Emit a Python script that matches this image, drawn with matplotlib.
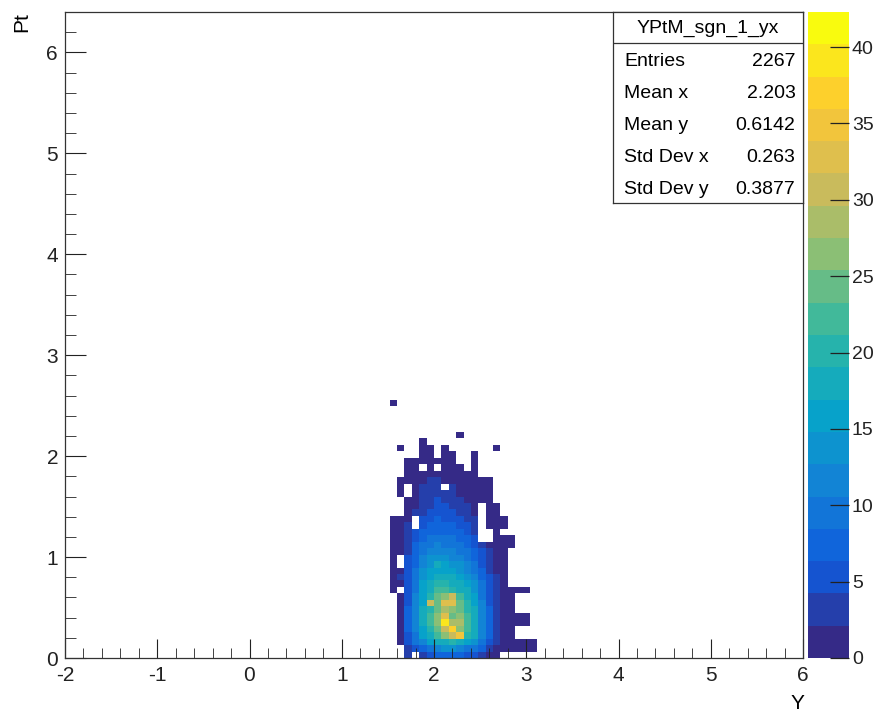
import numpy as np
import matplotlib
matplotlib.use('Agg')
import matplotlib.pyplot as plt
from matplotlib.colors import LinearSegmentedColormap, Normalize
from matplotlib.ticker import MultipleLocator

plt.rcParams['font.family'] = ['Liberation Sans Narrow', 'Liberation Sans', 'DejaVu Sans']
plt.rcParams['axes.unicode_minus'] = False

# histogram binning (TH2: 100 x 100)
x_edges = np.linspace(-2, 6, 101)
y_edges = np.linspace(0, 6.4, 101)

# bin contents, columns are x bins 44..64 (Y = 1.52 .. 3.20)
# rows listed from top (Pt bin 39) down to Pt bin 0
first_col = 44
counts_top_down = [
    [1, 0, 0, 0, 0, 0, 0, 0, 0, 0, 0, 0, 0, 0, 0, 0, 0, 0, 0, 0, 0],
    [0, 0, 0, 0, 0, 0, 0, 0, 0, 0, 0, 0, 0, 0, 0, 0, 0, 0, 0, 0, 0],
    [0, 0, 0, 0, 0, 0, 0, 0, 0, 0, 0, 0, 0, 0, 0, 0, 0, 0, 0, 0, 0],
    [0, 0, 0, 0, 0, 0, 0, 0, 0, 0, 0, 0, 0, 0, 0, 0, 0, 0, 0, 0, 0],
    [0, 0, 0, 0, 0, 0, 0, 0, 0, 0, 0, 0, 0, 0, 0, 0, 0, 0, 0, 0, 0],
    [0, 0, 0, 0, 0, 0, 0, 0, 0, 1, 0, 0, 0, 0, 0, 0, 0, 0, 0, 0, 0],
    [0, 0, 0, 0, 1, 0, 0, 0, 0, 0, 0, 0, 0, 0, 0, 0, 0, 0, 0, 0, 0],
    [0, 1, 0, 0, 1, 1, 0, 1, 0, 0, 0, 0, 0, 0, 1, 0, 0, 0, 0, 0, 0],
    [0, 0, 0, 0, 1, 1, 0, 1, 1, 0, 0, 1, 0, 0, 0, 0, 0, 0, 0, 0, 0],
    [0, 0, 1, 1, 2, 1, 1, 1, 1, 0, 0, 1, 0, 0, 0, 0, 0, 0, 0, 0, 0],
    [0, 0, 1, 2, 0, 2, 0, 2, 1, 1, 0, 1, 0, 0, 0, 0, 0, 0, 0, 0, 0],
    [0, 0, 1, 1, 2, 2, 2, 1, 2, 1, 1, 1, 0, 0, 0, 0, 0, 0, 0, 0, 0],
    [0, 1, 2, 1, 2, 3, 3, 2, 2, 1, 1, 1, 1, 1, 0, 0, 0, 0, 0, 0, 0],
    [0, 1, 0, 2, 3, 3, 4, 0, 3, 2, 2, 1, 1, 1, 0, 0, 0, 0, 0, 0, 0],
    [0, 1, 0, 1, 3, 3, 4, 3, 4, 2, 2, 2, 1, 1, 0, 0, 0, 0, 0, 0, 0],
    [0, 0, 1, 2, 3, 4, 5, 4, 4, 3, 2, 2, 1, 1, 0, 0, 0, 0, 0, 0, 0],
    [0, 0, 1, 2, 3, 4, 5, 5, 4, 3, 3, 2, 0, 1, 1, 0, 0, 0, 0, 0, 0],
    [0, 0, 2, 3, 4, 5, 6, 6, 5, 4, 3, 2, 0, 1, 1, 0, 0, 0, 0, 0, 0],
    [1, 1, 2, 0, 5, 6, 7, 6, 6, 5, 4, 3, 0, 1, 1, 1, 0, 0, 0, 0, 0],
    [1, 2, 3, 0, 6, 7, 7, 7, 7, 6, 5, 3, 0, 1, 1, 1, 0, 0, 0, 0, 0],
    [1, 2, 3, 5, 7, 8, 8, 8, 7, 7, 6, 4, 0, 0, 1, 0, 0, 0, 0, 0, 0],
    [1, 2, 3, 6, 8, 9, 9, 9, 9, 8, 7, 5, 0, 0, 1, 1, 1, 0, 0, 0, 0],
    [1, 2, 4, 7, 9, 10, 11, 10, 10, 9, 8, 6, 4, 2, 1, 1, 1, 0, 0, 0, 0],
    [1, 2, 4, 7, 10, 11, 12, 12, 11, 10, 9, 7, 5, 3, 1, 1, 0, 0, 0, 0, 0],
    [1, 0, 5, 8, 11, 13, 13, 13, 12, 11, 10, 8, 5, 3, 2, 1, 0, 0, 0, 0, 0],
    [1, 0, 5, 8, 12, 14, 17, 15, 14, 13, 11, 9, 6, 4, 2, 1, 0, 0, 0, 0, 0],
    [1, 2, 5, 9, 13, 15, 16, 16, 15, 14, 12, 10, 7, 4, 2, 1, 0, 0, 0, 0, 0],
    [1, 3, 6, 9, 14, 16, 18, 18, 17, 15, 13, 11, 8, 5, 3, 1, 0, 0, 0, 0, 0],
    [1, 2, 6, 10, 15, 18, 20, 20, 19, 17, 15, 13, 9, 5, 3, 1, 0, 0, 0, 0, 0],
    [1, 0, 6, 10, 15, 19, 22, 23, 21, 19, 17, 14, 10, 6, 3, 1, 1, 1, 1, 0, 0],
    [0, 1, 6, 11, 16, 20, 24, 27, 30, 23, 19, 15, 10, 6, 3, 2, 1, 0, 0, 0, 0],
    [0, 2, 6, 11, 16, 31, 25, 33, 32, 25, 20, 16, 11, 6, 4, 2, 1, 0, 0, 0, 0],
    [0, 2, 7, 11, 17, 21, 25, 28, 27, 25, 21, 17, 11, 7, 4, 2, 1, 0, 0, 0, 0],
    [0, 2, 7, 12, 17, 22, 26, 32, 25, 27, 22, 18, 12, 7, 4, 2, 1, 1, 1, 0, 0],
    [0, 2, 7, 12, 17, 22, 27, 40, 28, 28, 23, 18, 12, 7, 4, 2, 1, 1, 1, 0, 0],
    [0, 2, 7, 11, 16, 20, 24, 30, 36, 26, 22, 18, 11, 7, 4, 2, 1, 0, 0, 0, 0],
    [0, 2, 6, 10, 15, 18, 22, 26, 30, 35, 20, 17, 11, 7, 4, 2, 1, 0, 0, 0, 0],
    [0, 1, 5, 9, 12, 15, 17, 19, 20, 18, 15, 13, 9, 6, 3, 1, 1, 1, 1, 1, 0],
    [0, 0, 4, 6, 8, 10, 12, 13, 13, 12, 10, 9, 7, 4, 2, 1, 1, 1, 1, 1, 0],
    [0, 0, 3, 0, 4, 6, 7, 8, 8, 7, 6, 5, 3, 2, 1, 0, 0, 0, 0, 0, 0],
]

stats_title = 'YPtM_sgn_1_yx'
stats_names = ['Entries', 'Mean x', 'Mean y', 'Std Dev x', 'Std Dev y']
stats_values = ['2267', '2.203', '0.6142', '0.263', '0.3877']

z_max = 42.3
n_contours = 20

# ROOT kBird palette
bird_stops = [0.0, 0.125, 0.25, 0.375, 0.5, 0.625, 0.75, 0.875, 1.0]
bird_r = [0.2082, 0.0592, 0.0780, 0.0232, 0.1802, 0.5301, 0.8186, 0.9956, 0.9764]
bird_g = [0.1664, 0.3599, 0.5041, 0.6419, 0.7178, 0.7492, 0.7328, 0.7862, 0.9832]
bird_b = [0.5293, 0.8684, 0.8385, 0.7914, 0.6425, 0.4662, 0.3499, 0.1968, 0.0539]
cmap = LinearSegmentedColormap.from_list(
    'bird', list(zip(bird_stops, zip(bird_r, bird_g, bird_b))), N=n_contours)
norm = Normalize(vmin=0, vmax=z_max)

# fill full histogram
block = np.array(counts_top_down[::-1], dtype=float)
hist = np.zeros((100, 100))
hist[:block.shape[0], first_col:first_col + block.shape[1]] = block
hist = np.ma.masked_equal(hist, 0)

W, H = 875, 715
def px(l, t, r, b):
    return [l / W, 1 - b / H, (r - l) / W, (b - t) / H]

fig = plt.figure(figsize=(W / 100, H / 100), dpi=100)
ax = fig.add_axes(px(65, 12, 803, 658))
mesh = ax.pcolormesh(x_edges, y_edges, hist, cmap=cmap, norm=norm)

ax.set_xlim(-2, 6)
ax.set_ylim(0, 6.4)
ax.xaxis.set_major_locator(MultipleLocator(1))
ax.xaxis.set_minor_locator(MultipleLocator(0.2))
ax.yaxis.set_major_locator(MultipleLocator(1))
ax.yaxis.set_minor_locator(MultipleLocator(0.2))
ax.tick_params(axis='both', which='both', direction='in', colors='#222222', labelsize=15)
ax.tick_params(axis='x', which='major', length=14, pad=6)
ax.tick_params(axis='x', which='minor', length=7)
ax.tick_params(axis='y', which='major', length=15, pad=5)
ax.tick_params(axis='y', which='minor', length=8)
for s in ax.spines.values():
    s.set_color('#333333')
    s.set_linewidth(0.9)

fig.text(797 / W, 1 - 694 / H, 'Y', ha='center', va='top', fontsize=15)
fig.text(22 / W, 1 - 12 / H, 'Pt', ha='center', va='top', rotation=90, fontsize=15)

# palette axis
cax = fig.add_axes(px(808, 12, 849, 658))
cbar = fig.colorbar(mesh, cax=cax)
cbar.outline.set_visible(False)
cbar.set_ticks(np.arange(0, 41, 5))
cax.tick_params(direction='in', length=14, width=0.9, colors='#222222', labelsize=14, pad=2)
cax.minorticks_off()

# stats box
sax = fig.add_axes(px(613, 12, 803, 203))
sax.set_xlim(0, 1)
sax.set_ylim(1, 0)
sax.set_xticks([])
sax.set_yticks([])
for s in sax.spines.values():
    s.set_color('#333333')
    s.set_linewidth(0.9)
def sy(y):
    return (y - 12) / (203 - 12)
sax.axhline(sy(43), color='#333333', lw=0.9)
sax.text(0.5, sy(28), stats_title, ha='center', va='center', fontsize=14)
row_y = [62, 94, 126, 158, 190]
for name, val, y in zip(stats_names, stats_values, row_y):
    sax.text(0.06, sy(y), name, ha='left', va='center', fontsize=14)
    sax.text(0.96, sy(y), val, ha='right', va='center', fontsize=14)

fig.savefig('out.png', dpi=100)
